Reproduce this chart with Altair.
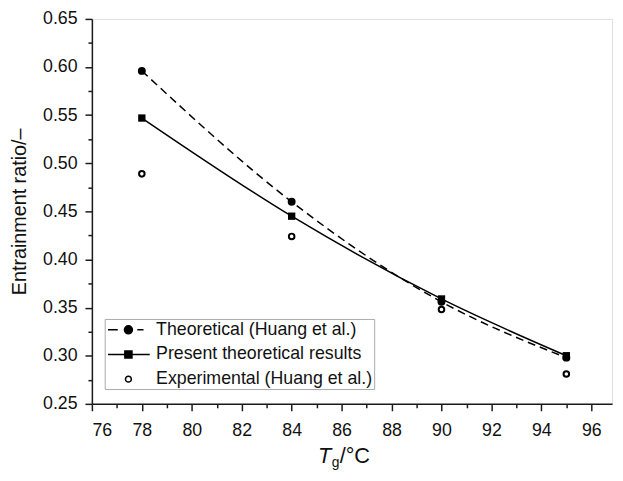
import altair as alt
import pandas as pd

# ---- data ----
temps = [78, 84, 90, 95]
theoretical_huang = [0.596, 0.460, 0.356, 0.298]
present_results = [0.547, 0.445, 0.359, 0.300]
experimental_huang = [0.489, 0.424, 0.348, 0.281]

series_names = ["Theoretical (Huang et al.)", "Present theoretical results", "Experimental (Huang et al.)"]

x_major = [76, 78, 80, 82, 84, 86, 88, 90, 92, 94, 96]
x_minor = [77, 79, 81, 83, 85, 87, 89, 91, 93, 95]
y_major = [0.25, 0.30, 0.35, 0.40, 0.45, 0.50, 0.55, 0.60, 0.65]
y_minor = [0.275, 0.325, 0.375, 0.425, 0.475, 0.525, 0.575, 0.625]

W, H = 527, 390
FONT = "Liberation Sans"

rows = []
for name, vals in zip(series_names, [theoretical_huang, present_results, experimental_huang]):
    for t, v in zip(temps, vals):
        rows.append({"T": t, "ratio": v, "series": name})
df = pd.DataFrame(rows)

xscale = alt.Scale(domain=[76, 96.83], nice=False, zero=False)
yscale = alt.Scale(domain=[0.25, 0.65], nice=False, zero=False)

axis_common = dict(domainColor="#1a1a1a", domainWidth=1.5, tickColor="#1a1a1a", tickWidth=1.5,
                   labelFont=FONT, labelColor="#111", grid=False)

x_main = alt.X("T:Q", scale=xscale, title=None,
               axis=alt.Axis(values=x_major, format="d", tickSize=7, labelFontSize=18,
                             labelPadding=11, orient="bottom", **axis_common))
y_main = alt.Y("ratio:Q", scale=yscale, title="Entrainment ratio/–",
               axis=alt.Axis(values=y_major, format=".2f", tickSize=7, labelFontSize=18,
                             labelPadding=8, titleFont=FONT, titleFontSize=20, titleFontWeight="normal",
                             titleColor="#111", titlePadding=13, orient="left", **axis_common))

xn = alt.X("T:Q", scale=xscale, axis=None)
yn = alt.Y("ratio:Q", scale=yscale, axis=None)

base = alt.Chart(df)

theo = base.transform_filter(alt.datum.series == series_names[0])
pres = base.transform_filter(alt.datum.series == series_names[1])
expe = base.transform_filter(alt.datum.series == series_names[2])

line_theo = theo.mark_line(color="black", strokeWidth=1.5, strokeDash=[8, 5], interpolate="monotone").encode(x=x_main, y=y_main)
line_pres = pres.mark_line(color="black", strokeWidth=1.5, interpolate="monotone").encode(x=xn, y=yn)
pt_theo = theo.mark_point(shape="circle", filled=True, color="black", size=64, opacity=1).encode(x=xn, y=yn)
pt_pres = pres.mark_point(shape="square", filled=True, color="black", size=55, opacity=1).encode(x=xn, y=yn)
pt_expe = expe.mark_point(shape="circle", filled=False, color="black", strokeWidth=2, size=32, opacity=1).encode(x=xn, y=yn)

# minor ticks via a second, label-less axis on the same scales
minor = base.mark_point(opacity=0).encode(
    x=alt.X("T:Q", scale=xscale, title=None,
            axis=alt.Axis(values=x_minor, labels=False, domain=False, tickSize=4, orient="bottom",
                          tickColor="#1a1a1a", tickWidth=1.5, grid=False)),
    y=alt.Y("ratio:Q", scale=yscale, title=None,
            axis=alt.Axis(values=y_minor, labels=False, domain=False, tickSize=4, orient="left",
                          tickColor="#1a1a1a", tickWidth=1.5, grid=False)),
)

# legend-only layer (no marks drawn); symbols are custom line+marker paths
# symbol size 324 -> path units scaled by 9 px
sym_theo = ("M-2.3,0L-1.2,0M1.0,0L1.7,0"
            "M0.45,0A0.45,0.45,0,1,1,-0.45,0A0.45,0.45,0,1,1,0.45,0Z")
sym_pres = "M-2.3,0L2.4,0M-0.4,-0.4L0.4,-0.4L0.4,0.4L-0.4,0.4Z"
sym_expe = "M0.33,0A0.33,0.33,0,1,1,-0.33,0A0.33,0.33,0,1,1,0.33,0Z"

leg = alt.Legend(title=None, orient="none", legendX=13, legendY=304, labelFont=FONT, labelFontSize=18,
                 labelColor="#111", labelLimit=400, symbolSize=324, symbolStrokeWidth=1.5,
                 symbolOpacity=1, labelOffset=18, strokeColor="#aaaaaa", padding=1, rowPadding=6,
                 symbolOffset=13, fillColor="white")
legend_layer = base.transform_filter("false").mark_point(filled=True, size=324, strokeWidth=1.5, opacity=1).encode(
    x=xn, y=yn,
    shape=alt.Shape("series:N", scale=alt.Scale(domain=series_names, range=[sym_theo, sym_pres, sym_expe]), legend=leg),
    fill=alt.Fill("series:N", scale=alt.Scale(domain=series_names, range=["black", "black", "white"]), legend=leg),
    stroke=alt.Stroke("series:N", scale=alt.Scale(domain=series_names, range=["black", "black", "black"]), legend=leg),
)

# x-axis title with italic T and subscript g
t_T = alt.Chart(pd.DataFrame({"s": ["T"]})).mark_text(font=FONT, fontSize=22, fontStyle="italic", align="left", baseline="alphabetic", color="#111").encode(
    text="s:N", x=alt.value(229), y=alt.value(450))
t_g = alt.Chart(pd.DataFrame({"s": ["g"]})).mark_text(font=FONT, fontSize=14, align="left", baseline="alphabetic", color="#111").encode(
    text="s:N", x=alt.value(243), y=alt.value(454))
t_unit = alt.Chart(pd.DataFrame({"s": ["/°C"]})).mark_text(font=FONT, fontSize=22, align="left", baseline="alphabetic", color="#111").encode(
    text="s:N", x=alt.value(251), y=alt.value(450))

chart = alt.layer(
    line_theo, minor, line_pres, pt_theo, pt_pres, pt_expe, legend_layer, t_T, t_g, t_unit
).resolve_axis(x="independent", y="independent").properties(
    width=W, height=H,
    autosize=alt.AutoSizeParams(type="none"),
    padding={"left": 85, "top": 8, "right": 3, "bottom": 67},
).configure_view(stroke=None).configure(background="white")

chart.save("out.html", embed_options={"renderer": "svg", "actions": False})
